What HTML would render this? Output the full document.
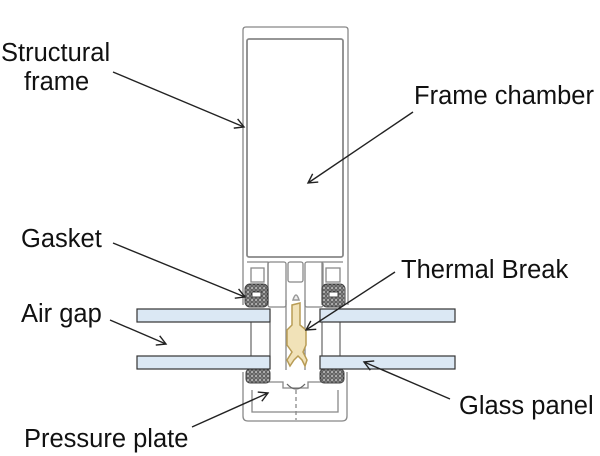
<!DOCTYPE html>
<html><head><meta charset="utf-8"><style>
html,body{margin:0;padding:0;background:#fff;}
svg{display:block;}
text{font-family:"Liberation Sans",Arial,sans-serif;font-size:25.5px;fill:#111;}
</style></head><body>
<svg width="600" height="456" viewBox="0 0 600 456" xmlns="http://www.w3.org/2000/svg">
<defs>
<marker id="ah" markerWidth="12" markerHeight="12" refX="10" refY="6" orient="auto" markerUnits="userSpaceOnUse">
<path d="M1,1 L10,6 L1,11" fill="none" stroke="#222" stroke-width="1.4"/>
</marker>
<pattern id="gk" width="4" height="4" patternUnits="userSpaceOnUse">
<rect width="4" height="4" fill="#bbb"/><circle cx="2" cy="2" r="1.3" fill="none" stroke="#333" stroke-width="0.9"/>
</pattern>
</defs>
<g fill="none" stroke="#888" stroke-width="1.3">
<path d="M243,305 L243,30 Q243,27 246,27 L345,27 Q348,27 348,30 L348,305"/>
<rect x="247" y="39" width="96" height="218" rx="2" stroke-width="1.8"/>
<path d="M247,262 L268,262 L268,305 M322,305 L322,262 L343,262"/>
<rect x="268" y="262" width="18" height="45" rx="2"/>
<rect x="305" y="262" width="18" height="45" rx="2"/>
<rect x="288" y="262" width="15" height="20" rx="2"/>
<path d="M251,268 L264,268 L264,282 L251,282 Z M326,268 L340,268 L340,282 L326,282 Z"/>
<path d="M286,300 L286,370 M305,300 L305,370"/>
<path d="M243,372 L243,416 Q243,421 248,421 L342,421 Q347,421 347,416 L347,372"/>
<path d="M250,382 L283,382 L283,388 L308,388 L308,382 L340,382"/>
<path d="M252,390 L252,412 L338,412 L338,390"/>
<path d="M287,384 Q296,394 305,384" stroke="#666"/>
<path d="M296,390 L296,420" stroke-dasharray="4,3"/>
</g>
<g stroke="#444" stroke-width="1">
<rect x="245" y="284" width="23" height="23" rx="5" fill="url(#gk)"/>
<rect x="322" y="284" width="23" height="23" rx="5" fill="url(#gk)"/>
<rect x="252" y="292" width="9" height="5" fill="#fff"/>
<rect x="329" y="292" width="9" height="5" fill="#fff"/>
<rect x="246" y="369" width="24" height="14" rx="4" fill="url(#gk)"/>
<rect x="320" y="369" width="24" height="14" rx="4" fill="url(#gk)"/>
</g>
<g stroke="#333" stroke-width="1.2" fill="#dbe8f4">
<rect x="137" y="309" width="133" height="13"/>
<rect x="137" y="356" width="133" height="13"/>
<rect x="320" y="309" width="135" height="13"/>
<rect x="320" y="356" width="135" height="13"/>
</g>
<g stroke="#444" stroke-width="1">
<path d="M251,322 L251,356 M270,322 L270,356 M322,322 L322,356 M340,322 L340,356"/>
</g>
<g stroke="#b89c55" stroke-width="1.5" fill="#f1e2b8">
<path d="M292,305 L292,325 L287,330 L287,345 L292,352 L287,360 L290,366 L294,360 L298,356 L302,360 L305,366 L307,360 L303,352 L306,345 L306,330 L300,325 L300,303 Z"/>
<path d="M293,300 Q296,290 299,300 Z" fill="#eee" stroke="#999"/>
</g>
<g stroke="#222" stroke-width="1.4" fill="none" marker-end="url(#ah)">
<line x1="113" y1="72" x2="244" y2="127"/>
<line x1="413" y1="112" x2="308" y2="183"/>
<line x1="113" y1="243" x2="245" y2="297"/>
<line x1="395" y1="272" x2="306" y2="330"/>
<line x1="110" y1="320" x2="166" y2="344"/>
<line x1="450" y1="399" x2="364" y2="362"/>
<line x1="192" y1="427" x2="268" y2="393"/>
</g>
<text x="1" y="61">Structural</text>
<text x="24" y="90">frame</text>
<text x="414" y="104">Frame chamber</text>
<text x="21" y="247">Gasket</text>
<text x="401" y="278">Thermal Break</text>
<text x="21" y="322">Air gap</text>
<text x="459" y="414">Glass panel</text>
<text x="24" y="447">Pressure plate</text>
</svg>
</body></html>
